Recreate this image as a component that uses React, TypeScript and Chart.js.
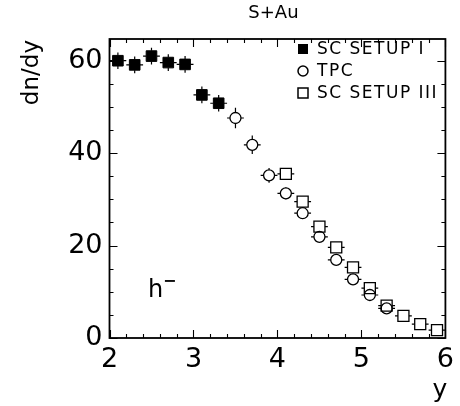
import React, { useEffect, useRef } from "react";
import { Chart, registerables } from "chart.js";
Chart.register(...registerables);

const titleText = "S+Au";
const xAxisTitle = "y";
const yAxisTitle = "dn/dy";
const particleLabel = "h";
const seriesNames = ["SC SETUP I", "TPC", "SC SETUP III"];

const setup1Y = [2.1, 2.3, 2.5, 2.7, 2.9, 3.1, 3.3];
const setup1Dn = [60.0, 59.1, 61.0, 59.6, 59.2, 52.6, 50.8];
const setup1Err = [1.8, 1.8, 1.8, 1.8, 1.8, 1.8, 1.8];

const tpcY = [3.5, 3.7, 3.9, 4.1, 4.3, 4.5, 4.7, 4.9, 5.1, 5.3];
const tpcDn = [47.6, 41.8, 35.2, 31.3, 27.0, 21.9, 16.9, 12.7, 9.3, 6.4];
const tpcErr = [2.2, 2.0, 1.6, 1.3, 1.1, 1.0, 0.9, 0.8, 0.7, 0.6];

const setup3Y = [4.1, 4.3, 4.5, 4.7, 4.9, 5.1, 5.3, 5.5, 5.7, 5.9];
const setup3Dn = [35.5, 29.5, 24.1, 19.6, 15.3, 10.8, 7.0, 4.8, 3.0, 1.7];
const setup3Err = [1.0, 1.0, 0.9, 0.9, 0.8, 0.8, 0.7, 0.6, 0.5, 0.4];

const xTickValues = [2, 3, 4, 5, 6];
const yTickValues = [0, 20, 40, 60];

const binHalfWidth = 0.1;
const xMin = 2, xMax = 6, xStep = 1, xMinorStep = 0.2;
const yMin = 0, yMax = 64.7, yStep = 20, yMinorStep = 5;

const FONT = "'DejaVu Sans', sans-serif";

const errors = [setup1Err, tpcErr, setup3Err];

function markerHalf(ds: any): number {
  const r = ds.pointRadius;
  return ds.pointStyle === "rect" ? r * Math.SQRT1_2 : r;
}

const errorBarPlugin = {
  id: "errorBars",
  afterDatasetsDraw(chart: any) {
    const ctx = chart.ctx;
    const xs = chart.scales.x, ys = chart.scales.y;
    ctx.save();
    ctx.strokeStyle = "#000";
    ctx.lineWidth = 1.2;
    chart.data.datasets.forEach((ds: any, i: number) => {
      const half = markerHalf(ds);
      ds.data.forEach((p: any, j: number) => {
        const px = xs.getPixelForValue(p.x);
        const py = ys.getPixelForValue(p.y);
        const e = errors[i][j];
        const top = ys.getPixelForValue(p.y + e);
        const bot = ys.getPixelForValue(p.y - e);
        const left = xs.getPixelForValue(p.x - binHalfWidth);
        const right = xs.getPixelForValue(p.x + binHalfWidth);
        ctx.beginPath();
        if (py - top > half) { ctx.moveTo(px, top); ctx.lineTo(px, py - half); }
        if (bot - py > half) { ctx.moveTo(px, py + half); ctx.lineTo(px, bot); }
        if (px - left > half) { ctx.moveTo(left, py); ctx.lineTo(px - half, py); }
        if (right - px > half) { ctx.moveTo(px + half, py); ctx.lineTo(right, py); }
        ctx.stroke();
      });
    });
    ctx.restore();
  },
};

const framePlugin = {
  id: "frame",
  afterDraw(chart: any) {
    const ctx = chart.ctx;
    const { left, right, top, bottom } = chart.chartArea;
    const xs = chart.scales.x, ys = chart.scales.y;
    ctx.save();
    ctx.strokeStyle = "#000";
    ctx.lineWidth = 1.8;
    ctx.strokeRect(left, top, right - left, bottom - top);
    ctx.lineWidth = 1.1;
    ctx.beginPath();
    const nx = Math.round((xMax - xMin) / xMinorStep);
    for (let k = 0; k <= nx; k++) {
      const v = xMin + k * xMinorStep;
      const major = k % Math.round(xStep / xMinorStep) === 0;
      const len = major ? 8 : 4;
      const px = Math.round(xs.getPixelForValue(v)) + 0.5;
      ctx.moveTo(px, bottom); ctx.lineTo(px, bottom - len);
      ctx.moveTo(px, top); ctx.lineTo(px, top + len);
    }
    const ny = Math.floor((yMax - yMin) / yMinorStep);
    for (let k = 0; k <= ny; k++) {
      const v = yMin + k * yMinorStep;
      const major = k % Math.round(yStep / yMinorStep) === 0;
      const len = major ? 8 : 4;
      const py = Math.round(ys.getPixelForValue(v)) + 0.5;
      ctx.moveTo(left, py); ctx.lineTo(left + len, py);
      ctx.moveTo(right, py); ctx.lineTo(right - len, py);
    }
    ctx.stroke();

    // texts
    ctx.fillStyle = "#000";
    ctx.textBaseline = "middle";
    ctx.textAlign = "center";
    ctx.font = `18px ${FONT}`;
    ctx.fillText(titleText, (left + right) / 2 - 4, 13);

    ctx.font = `25px ${FONT}`;
    ctx.textAlign = "right";
    ctx.textBaseline = "alphabetic";
    ctx.fillText(xAxisTitle, right + 2, 397);

    ctx.save();
    ctx.translate(38, top + 1);
    ctx.rotate(-Math.PI / 2);
    ctx.textAlign = "right";
    ctx.font = `23px ${FONT}`;
    ctx.fillText(yAxisTitle, 0, 0);
    ctx.restore();

    ctx.textAlign = "left";
    ctx.font = `24px ${FONT}`;
    ctx.fillText(particleLabel, 148, 297);
    ctx.font = `bold 16px ${FONT}`;
    ctx.fillText("\u2212", 163, 286);

    // legend
    const lx = 303;
    const rows = [49, 71, 93];
    ctx.lineWidth = 1.5;
    ctx.fillRect(lx - 5, rows[0] - 5, 10, 10);
    ctx.beginPath();
    ctx.arc(lx, rows[1], 5, 0, Math.PI * 2);
    ctx.stroke();
    ctx.strokeRect(lx - 5, rows[2] - 5, 10, 10);
    ctx.font = `17px ${FONT}`;
    ctx.textBaseline = "middle";
    try { (ctx as any).letterSpacing = "1.5px"; } catch (e) {}
    seriesNames.forEach((n, i) => ctx.fillText(n, lx + 14, rows[i] + 1));
    try { (ctx as any).letterSpacing = "0px"; } catch (e) {}
    ctx.restore();
  },
};

export default function App() {
  const ref = useRef<HTMLCanvasElement>(null);
  useEffect(() => {
    document.body.style.margin = "0";
    const canvas = ref.current!;
    const toPts = (xs: number[], ys: number[]) => xs.map((x, i) => ({ x, y: ys[i] }));
    const chart = new Chart(canvas, {
      type: "scatter",
      data: {
        datasets: [
          {
            label: seriesNames[0],
            data: toPts(setup1Y, setup1Dn),
            pointStyle: "rect",
            pointRadius: 7.5,
            backgroundColor: "#000",
            borderColor: "#000",
            borderWidth: 1,
          },
          {
            label: seriesNames[1],
            data: toPts(tpcY, tpcDn),
            pointStyle: "circle",
            pointRadius: 5.5,
            backgroundColor: "rgba(0,0,0,0)",
            borderColor: "#000",
            borderWidth: 1.3,
          },
          {
            label: seriesNames[2],
            data: toPts(setup3Y, setup3Dn),
            pointStyle: "rect",
            pointRadius: 7.8,
            backgroundColor: "rgba(0,0,0,0)",
            borderColor: "#000",
            borderWidth: 1.3,
          },
        ],
      },
      options: {
        responsive: false,
        animation: false,
        events: [],
        layout: { padding: { left: 0, right: 8.5, top: 39, bottom: 0 } },
        plugins: { legend: { display: false }, tooltip: { enabled: false }, title: { display: false } },
        scales: {
          x: {
            type: "linear",
            min: xMin,
            max: xMax,
            grid: { display: false, drawTicks: false },
            border: { display: false },
            ticks: { color: "#000", font: { family: FONT, size: 27 }, padding: 6, maxRotation: 0 },
            afterBuildTicks: (s: any) => { s.ticks = xTickValues.map((v) => ({ value: v })); },
            afterFit: (s: any) => { s.height = 406 - 338; },
          },
          y: {
            type: "linear",
            min: yMin,
            max: yMax,
            grid: { display: false, drawTicks: false },
            border: { display: false },
            ticks: { color: "#000", font: { family: FONT, size: 27 }, padding: 7 },
            afterBuildTicks: (s: any) => { s.ticks = yTickValues.map((v) => ({ value: v })); },
            afterFit: (s: any) => { s.width = 109.5; },
          },
        },
      },
      plugins: [errorBarPlugin, framePlugin],
    } as any);
    return () => chart.destroy();
  }, []);
  return (
    <div style={{ width: 460, height: 406 }}>
      <canvas ref={ref} width={460} height={406} />
    </div>
  );
}
